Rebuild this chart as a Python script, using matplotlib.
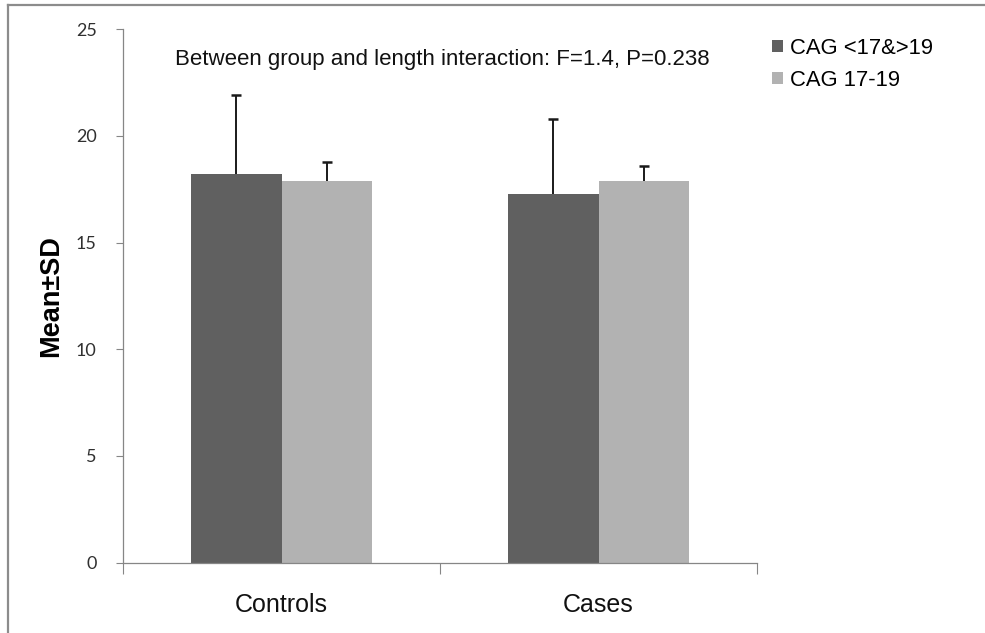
import matplotlib
matplotlib.use("Agg")
import matplotlib.pyplot as plt
from matplotlib import font_manager
from matplotlib.lines import Line2D
import numpy as np

categories = ["Controls", "Cases"]
series_names = ["CAG <17&>19", "CAG 17-19"]
means_dark = [18.2, 17.3]
sd_dark = [3.7, 3.5]
means_light = [17.9, 17.9]
sd_light = [0.9, 0.7]
yticks = [0, 5, 10, 15, 20, 25]
annotation = "Between group and length interaction: F=1.4, P=0.238"
ylabel = "Mean\u00b1SD"

names = {f.name for f in font_manager.fontManager.ttflist}
tickfont = "Lato" if "Lato" in names else "DejaVu Sans"
textfont = "Liberation Sans"

W, H = 985, 633
fig = plt.figure(figsize=(W / 100, H / 100), dpi=100)
left, right = 123 / W, 757 / W
bottom, top = 1 - 562.5 / H, 1 - 29.3 / H
ax = fig.add_axes([left, bottom, right - left, top - bottom])

x = np.arange(len(categories))
bw = 0.287
dark, light = "#606060", "#b2b2b2"
ekw = dict(elinewidth=1.4, capthick=1.8, ecolor="#1a1a1a")
b1 = ax.bar(x - bw / 2, means_dark, bw, color=dark, label=series_names[0],
            yerr=[np.zeros(len(sd_dark)), sd_dark], capsize=3.3, error_kw=ekw)
b2 = ax.bar(x + bw / 2, means_light, bw, color=light, label=series_names[1],
            yerr=[np.zeros(len(sd_light)), sd_light], capsize=3.3, error_kw=ekw)
for b in (b1, b2):
    caps = b.errorbar.lines[1]
    if len(caps) == 2:
        caps[0].set_visible(False)

ax.set_xlim(-0.5, len(categories) - 0.5)
ax.set_ylim(0, 25)
ax.set_yticks(yticks)
ax.set_yticklabels([str(t) for t in yticks], fontfamily=tickfont, fontsize=13, color="#303030")
ax.set_xticks(np.arange(-0.5, len(categories), 1.0))
ax.set_xticklabels([])
ax.set_xticks(x, minor=True)
ax.set_xticklabels(categories, minor=True, fontfamily=textfont, fontsize=18, color="#111111")
ax.tick_params(axis="x", which="major", length=8, width=0.8, color="#868686", direction="out")
ax.tick_params(axis="x", which="minor", length=0, pad=22)
ax.tick_params(axis="y", length=5, width=0.8, color="#868686", pad=14)
for s in ["top", "right"]:
    ax.spines[s].set_visible(False)
for s in ["left", "bottom"]:
    ax.spines[s].set_color("#868686")
    ax.spines[s].set_linewidth(0.9)

ax.set_ylabel(ylabel, fontfamily=textfont, fontweight="bold", fontsize=19.5)
ax.yaxis.set_label_coords(64 / W, 1 - 296 / H, transform=fig.transFigure)

fig.text(175 / W, 1 - 60 / H, annotation, fontfamily=textfont, fontsize=16,
         va="center", ha="left", color="#111111")

fig.legend(loc="upper left", bbox_to_anchor=(772 / W, 1 - 38 / H), frameon=False, borderpad=0,
           borderaxespad=0, handlelength=0.5, handleheight=0.5, handletextpad=0.32,
           labelspacing=0.5, prop={"family": textfont, "size": 15.8})

fig.add_artist(Line2D([8 / W, 8 / W], [0, 1 - 5 / H], transform=fig.transFigure, color="#8c8c8c", lw=1.6))
fig.add_artist(Line2D([8 / W, 1], [1 - 5 / H, 1 - 5 / H], transform=fig.transFigure, color="#8c8c8c", lw=1.6))

fig.savefig("out.png", dpi=100)
